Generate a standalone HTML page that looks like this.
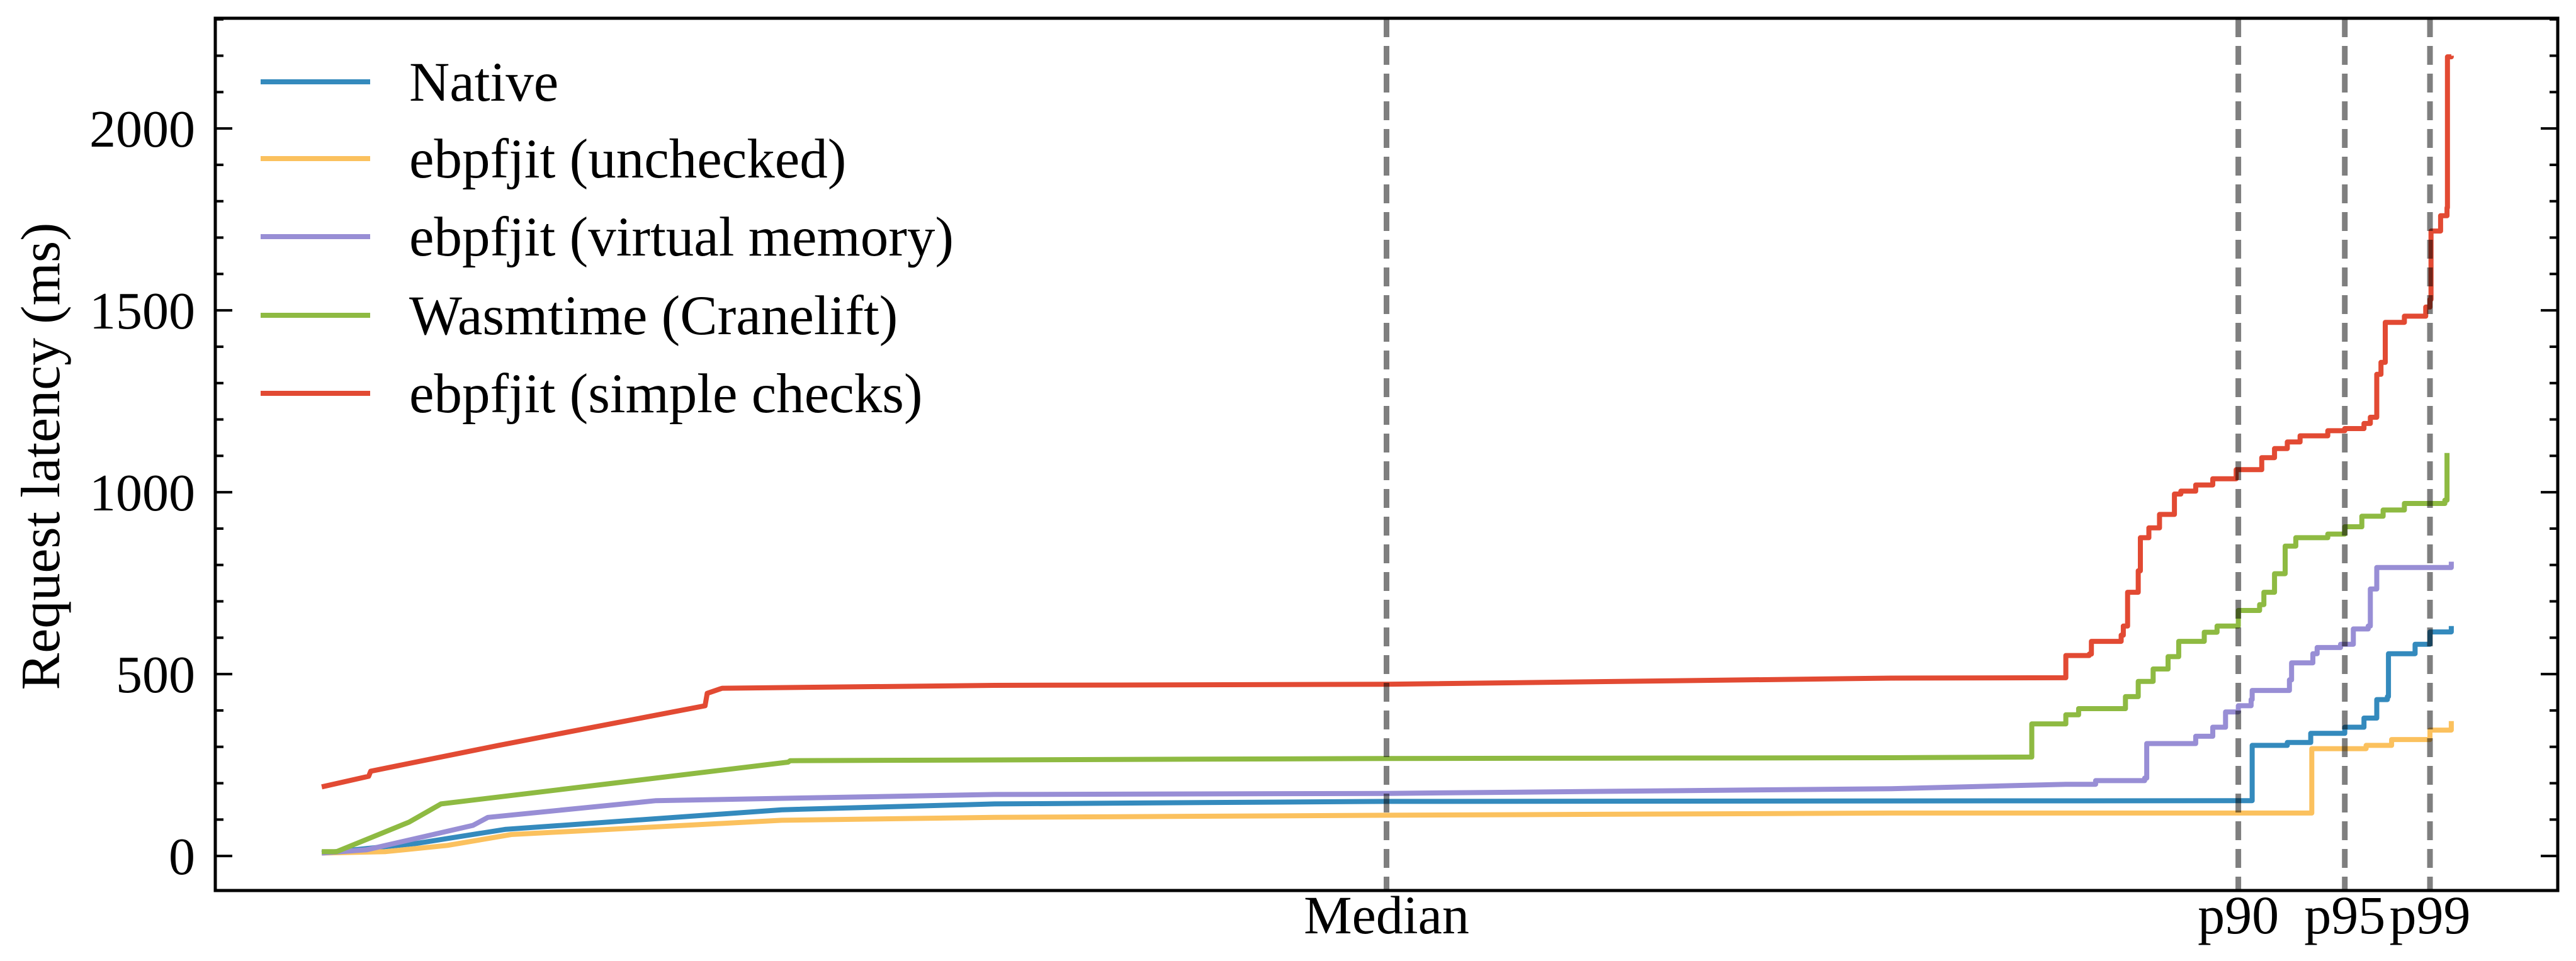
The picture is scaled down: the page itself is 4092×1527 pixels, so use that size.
<!DOCTYPE html>
<html><head><meta charset="utf-8"><style>
html,body{margin:0;padding:0;background:#fff;}
svg{display:block;}
text{font-family:"Liberation Serif",serif;fill:#000;}
</style></head><body>
<svg id="chart" width="4092" height="1527" viewBox="0 0 4092 1527" xmlns="http://www.w3.org/2000/svg">
<rect x="0" y="0" width="4092" height="1527" fill="#fff"/>
<g id="series"></g>
<g id="refs"></g>
<g id="axes"></g>
<g id="legend"></g>
</svg>
<script>
const seriesNames = ["Native","ebpfjit (unchecked)","ebpfjit (virtual memory)","Wasmtime (Cranelift)","ebpfjit (simple checks)"];
const seriesColors = ["#348abd","#fbc15e","#988ed5","#8eba42","#e24a33"];
const nativePct = [0,4.4,8.6,21.6,31.6,50,90.6,90.65,92.3,93.4,95,95.9,96.5,97,97.05,98.3,99,100];
const nativeVal = [8,34,73,127,143,150,152,304,312,337,354,379,430,438,556,582,616,632];
const uncheckedPct = [0,3,5.9,8.9,21.6,31.6,50,73.7,93.4,93.45,96,97.2,99,100];
const uncheckedVal = [8,12,29,59,98,106,112,118,118,295,304,320,346,371];
const vmPct = [0,2.1,7.1,7.8,15.7,23.1,31.6,50,73.7,81.9,83.3,85.6,85.7,88,88.8,89.4,90,90.6,90.65,92.4,92.5,93.5,93.7,94.8,95.4,96.1,96.2,96.5,100];
const vmVal = [8,17,84,106,152,160,169,172,185,197,207,214,309,329,354,396,413,430,455,484,531,556,573,582,624,632,734,793,809];
const wasmPct = [0,0.7,4.1,5.6,21.9,22,50,73.7,80.2,80.3,81.9,82.5,84.7,85.3,86,86.7,87.2,88.4,89,90,91,91.2,91.7,92.2,92.7,94.2,95,95.8,96.8,97.8,99.7,99.8];
const wasmVal = [12,12,93,143,258,262,268,270,272,363,388,405,438,480,514,548,590,615,632,675,691,725,776,852,875,885,905,934,951,969,978,1108];
const simplePct = [0,2.2,2.3,8.3,18,18.1,18.8,31.6,50,73.7,81.8,81.9,83,83.1,84.5,84.6,84.8,85.3,85.4,85.8,86.3,87,87.3,88,88.8,89.9,91.1,91.7,92.3,92.9,94.2,95,95.9,96.2,96.5,96.7,96.9,97.8,98.8,99,99.05,99.5,99.8,99.82,100];
const simpleVal = [190,219,233,304,413,447,461,469,472,489,490,551,555,590,607,632,725,784,875,902,939,995,1003,1020,1037,1062,1095,1120,1138,1155,1169,1175,1189,1206,1324,1357,1467,1484,1509,1530,1718,1760,1782,2197,2200];
const refPct = [50,90,95,99];
const refLabels = ["Median","p90","p95","p99"];
const yTicks = [0,500,1000,1500,2000];

const NS="http://www.w3.org/2000/svg";
const L=342,R=4063,T=29,B=1415;
const XMIN=-5,XMAX=105,YMIN=-95,YMAX=2303;
function xs(p){return L+(p-XMIN)/(XMAX-XMIN)*(R-L);}
function ys(v){return B-(v-YMIN)/(YMAX-YMIN)*(B-T);}
function mk(tag,attrs,parent){const e=document.createElementNS(NS,tag);for(const k in attrs)e.setAttribute(k,attrs[k]);parent.appendChild(e);return e;}

const gS=document.getElementById('series');
const allP=[nativePct,uncheckedPct,vmPct,wasmPct,simplePct];
const allV=[nativeVal,uncheckedVal,vmVal,wasmVal,simpleVal];
const keys=["native","unchecked","virtual-memory","wasmtime","simple-checks"];
for(let s=0;s<5;s++){
  const pts=[];
  for(let i=0;i<allP[s].length;i++){
    const x=xs(allP[s][i]), y=ys(allV[s][i]);
    if(i>0 && allP[s][i]>=80 && allP[s][i-1]>=80){
      pts.push(x.toFixed(1)+","+ys(allV[s][i-1]).toFixed(1));
    }
    pts.push(x.toFixed(1)+","+y.toFixed(1));
  }
  const pl=mk('polyline',{points:pts.join(" "),fill:"none",stroke:seriesColors[s],"stroke-width":8,"stroke-linejoin":"round"},gS);
  
  
}

const gR=document.getElementById('refs');
const gA=document.getElementById('axes');
for(let i=0;i<refPct.length;i++){
  const x=xs(refPct[i]);
  const ln=mk('line',{x1:x,x2:x,y1:T,y2:B,stroke:"#000","stroke-opacity":0.5,"stroke-width":9,"stroke-dasharray":"30 14"},gR);
  
  
  const t=mk('text',{x:x,y:1483,"text-anchor":"middle","font-size":86},gA);
  t.textContent=refLabels[i];
  
  
}
for(let v=-0;v<=2300;v+=100){
  const y=ys(v);const major=(v%500===0);const len=major?27:13;
  const a=mk('line',{x1:L,x2:L+len,y1:y,y2:y,stroke:"#000","stroke-width":4},gA);
  
  
  const b=mk('line',{x1:R-len,x2:R,y1:y,y2:y,stroke:"#000","stroke-width":4},gA);
  
  
}
for(const v of yTicks){
  const t=mk('text',{x:310,y:ys(v)+29,"text-anchor":"end","font-size":84},gA);
  t.textContent=String(v);
  
  
}
const fr=mk('rect',{x:L,y:T,width:R-L,height:B-T,fill:"none",stroke:"#000","stroke-width":5},gA);


const yl=mk('text',{x:0,y:0,"text-anchor":"middle","font-size":88,transform:"translate(94,725) rotate(-90)"},gA);
yl.textContent="Request latency (ms)";



const gL=document.getElementById('legend');
const rowsY=[130,252,376,501,625];
for(let s=0;s<5;s++){
  const g=mk('g',{},gL);
  
  
  mk('line',{x1:414,x2:588,y1:rowsY[s],y2:rowsY[s],stroke:seriesColors[s],"stroke-width":8},g);
  const t=mk('text',{x:650,y:rowsY[s]+30,"font-size":89},g);
  t.textContent=seriesNames[s];
}
</script>
</body></html>
